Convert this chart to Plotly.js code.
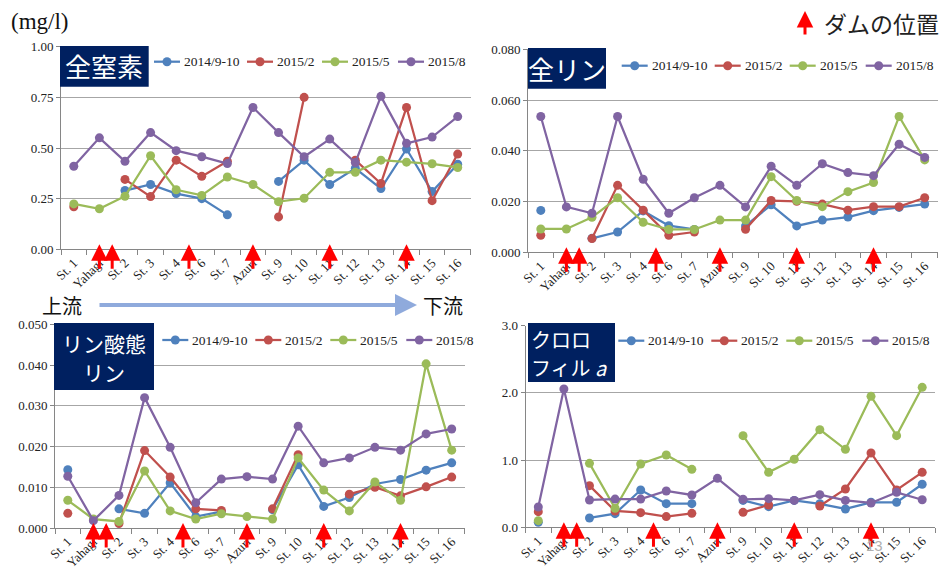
<!DOCTYPE html>
<html>
<head>
<meta charset="utf-8">
<script src="https://cdn.plot.ly/plotly-3.0.1.min.js"></script>
<style>html,body{margin:0;padding:0;background:#fff;}#chart{width:947px;height:574px;}</style>
</head>
<body>
<div id="chart"></div>
<script>
// ---------- DATA ----------
const categories = ["St. 1","Yahagi","St. 2","St. 3","St. 4","St. 6","St. 7","Azuri","St. 9","St. 10","St. 11","St. 12","St. 13","St. 14","St. 15","St. 16"];
const seriesNames = ["2014/9-10","2015/2","2015/5","2015/8"];
const damPositions = [1, 1.5, 4.5, 7, 10, 13];

// 全窒素 (mg/l)
const tn_2014_9_10 = [null,null,0.29,0.32,0.275,0.25,0.17,null,0.335,0.44,0.32,0.40,0.30,0.495,0.285,0.42];
const tn_2015_2    = [0.21,null,0.345,0.26,0.44,0.36,0.435,null,0.16,0.75,null,0.44,0.325,0.70,0.24,0.47];
const tn_2015_5    = [0.224,0.20,0.262,0.462,0.294,0.266,0.357,0.32,0.235,0.252,0.38,0.38,0.44,0.43,0.422,0.404];
const tn_2015_8    = [0.41,0.55,0.434,0.576,0.487,0.457,0.423,0.70,0.576,0.457,0.544,0.428,0.755,0.523,0.554,0.655];

// 全リン (mg/l)
const tp_2014_9_10 = [0.0165,null,0.0055,0.008,0.0163,0.0105,0.009,null,0.0104,0.0187,0.0104,0.0127,0.0139,0.0164,0.0177,0.019];
const tp_2015_2    = [0.0067,null,0.0054,0.0264,0.0166,0.0067,0.008,null,0.0091,0.0204,0.0201,0.019,0.0166,0.018,0.018,0.0215];
const tp_2015_5    = [0.0092,0.0092,0.0138,0.0215,0.0118,0.009,0.009,0.0127,0.0127,0.0298,0.0204,0.018,0.0239,0.0275,0.0535,0.0364];
const tp_2015_8    = [0.0535,0.0179,0.0154,0.0535,0.0288,0.0154,0.0215,0.0264,0.0179,0.0339,0.0264,0.0349,0.0314,0.0302,0.0426,0.0374];

// リン酸態リン (mg/l)
const po4_2014_9_10 = [0.0143,null,0.0047,0.0036,0.0111,0.0028,0.004,null,0.0045,0.0155,0.0053,0.0075,0.0108,0.0119,0.0142,0.016];
const po4_2015_2    = [0.0036,null,0.0011,0.019,0.0125,0.0047,0.0043,null,0.0047,0.018,null,0.0083,0.010,0.0079,0.0101,0.0125];
const po4_2015_5    = [0.0068,0.0022,0.0016,0.014,0.0042,0.0022,0.0035,0.0028,0.0022,0.0172,0.0093,0.0042,0.0113,0.0068,0.0403,0.0191];
const po4_2015_8    = [0.0127,0.0018,0.008,0.032,0.0198,0.0062,0.012,0.0126,0.012,0.025,0.016,0.0172,0.0198,0.0191,0.0231,0.0243];

// クロロフィル a
const chla_2014_9_10 = [0.074,null,0.139,0.203,0.555,0.352,0.352,null,0.40,0.307,0.40,0.35,0.273,0.372,0.372,0.64];
const chla_2015_2    = [0.233,null,0.62,0.243,0.218,0.159,0.208,null,0.223,0.332,null,0.317,0.57,1.106,0.555,0.818];
const chla_2015_5    = [0.099,null,0.952,0.283,0.942,1.076,0.863,null,1.364,0.818,1.012,1.453,1.16,1.949,1.364,2.083];
const chla_2015_8    = [0.302,2.058,0.407,0.42,0.42,0.54,0.481,0.729,0.417,0.426,0.40,0.486,0.40,0.362,0.52,0.41];

const panelTitles = [["全窒素"],["全リン"],["リン酸態","リン"],["クロロ","フィル <i>a</i>"]];

// ---------- LAYOUT ----------
const W = 947, H = 574;
const px = x => x / W;
const py = y => 1 - y / H;
const colors = ["#4F81BD","#C0504D","#9BBB59","#8064A2"];
const serif = "Liberation Serif";
const cjk = "Noto Sans CJK JP";

const panels = [
  {data:[tn_2014_9_10,tn_2015_2,tn_2015_5,tn_2015_8], xd:[61,470.5], yd:[46.7,249.3], ymax:1.0, dtick:0.25, fmt:".2f",
   box:[60,46,148.7,86.7], tAlign:"center", tSize:26, lines:[66], legX:154, legY:61.7},
  {data:[tp_2014_9_10,tp_2015_2,tp_2015_5,tp_2015_8], xd:[528,937.5], yd:[49.3,252.3], ymax:0.08, dtick:0.02, fmt:".3f",
   box:[528,48,606,88.7], tAlign:"center", tSize:26, lines:[68], legX:621.7, legY:65.7},
  {data:[po4_2014_9_10,po4_2015_2,po4_2015_5,po4_2015_8], xd:[55,464.5], yd:[324.3,528], ymax:0.05, dtick:0.01, fmt:".3f",
   box:[54,323,154,390], tAlign:"center", tSize:21, lines:[342.5,372], legX:162.3, legY:340},
  {data:[chla_2014_9_10,chla_2015_2,chla_2015_5,chla_2015_8], xd:[525.5,935], yd:[325.7,527.3], ymax:3.0, dtick:1.0, fmt:".1f",
   box:[528,323,615,382], tAlign:"left", tSize:20, lines:[339,367.5], legX:618.3, legY:340.7}
];
const legOffsets = [0, 93, 168, 244];

const traces = [];
const layout = {
  width: W, height: H,
  margin: {l:0, r:0, t:0, b:0},
  paper_bgcolor: "#fff", plot_bgcolor: "#fff",
  showlegend: false,
  font: {family: serif, color: "#222"},
  shapes: [], annotations: []
};

panels.forEach((p, i) => {
  const suf = i === 0 ? "" : String(i + 1);
  const xa = "x" + suf, ya = "y" + suf;
  layout["xaxis" + suf] = {
    domain: [px(p.xd[0]), px(p.xd[1])], anchor: ya,
    type: "category", categoryorder: "array", categoryarray: categories,
    range: [-0.5, categories.length - 0.5],
    showgrid: false, zeroline: false,
    showline: true, linecolor: "#868686", linewidth: 1,
    ticks: "outside", tickson: "boundaries", ticklen: 5, tickcolor: "#868686",
    tickangle: -45, tickfont: {family: serif, size: 13, color: "#222"}
  };
  layout["yaxis" + suf] = {
    domain: [py(p.yd[1]), py(p.yd[0])], anchor: xa,
    range: [0, p.ymax], dtick: p.dtick, tick0: 0, tickformat: p.fmt,
    showgrid: true, gridcolor: "#a6a6a6", gridwidth: 1, zeroline: false,
    showline: true, linecolor: "#868686", linewidth: 1,
    ticks: "outside", ticklen: 4, tickcolor: "#868686",
    tickfont: {family: serif, size: 13, color: "#222"}
  };
  p.data.forEach((ys, k) => {
    traces.push({
      type: "scatter", mode: "lines+markers", name: seriesNames[k],
      x: categories, y: ys, xaxis: xa, yaxis: ya,
      line: {color: colors[k], width: 2.25},
      marker: {color: colors[k], size: 9},
      connectgaps: false, cliponaxis: false, hoverinfo: "x+y+name"
    });
  });
  // title box
  layout.shapes.push({type: "rect", xref: "paper", yref: "paper",
    x0: px(p.box[0]), x1: px(p.box[2]), y0: py(p.box[3]), y1: py(p.box[1]),
    fillcolor: "#002060", line: {width: 0}, layer: "above"});
  panelTitles[i].forEach((t, j) => {
    layout.annotations.push({xref: "paper", yref: "paper",
      x: p.tAlign === "left" ? px(p.box[0] + 1) : px((p.box[0] + p.box[2]) / 2),
      y: py(p.lines[j]),
      xanchor: p.tAlign === "left" ? "left" : "center", yanchor: "middle",
      text: t, showarrow: false,
      font: {family: cjk, size: p.tSize, color: "#fff"}});
  });
  // legend
  seriesNames.forEach((nm, k) => {
    const lx = p.legX + legOffsets[k];
    layout.shapes.push({type: "line", xref: "paper", yref: "paper",
      x0: px(lx), x1: px(lx + 26), y0: py(p.legY), y1: py(p.legY),
      line: {color: colors[k], width: 2.25}});
    layout.shapes.push({type: "circle", xref: "paper", yref: "paper",
      xsizemode: "pixel", ysizemode: "pixel", xanchor: px(lx + 13), yanchor: py(p.legY),
      x0: -4.5, x1: 4.5, y0: -4.5, y1: 4.5,
      fillcolor: colors[k], line: {width: 0}});
    layout.annotations.push({xref: "paper", yref: "paper", x: px(lx + 28), y: py(p.legY),
      xanchor: "left", yanchor: "middle", text: nm, showarrow: false,
      font: {family: serif, size: 13.5, color: "#222"}});
  });
  // dam arrows
  damPositions.forEach(d => {
    layout.annotations.push({xref: xa, yref: "paper", x: d, y: py(p.yd[1] - 5),
      text: "", showarrow: true, axref: "pixel", ayref: "pixel", ax: 0, ay: 26,
      arrowcolor: "#FF0000", arrowwidth: 3, arrowhead: 2, arrowsize: 1.1, standoff: 0});
  });
});

// global texts
layout.annotations.push({xref:"paper", yref:"paper", x:px(9), y:py(21.7), xanchor:"left", yanchor:"middle",
  text:"(mg/l)", showarrow:false, font:{family:serif, size:23, color:"#111"}});
layout.annotations.push({xref:"paper", yref:"paper", x:px(822), y:py(23), xanchor:"left", yanchor:"middle",
  text:"ダムの位置", showarrow:false, font:{family:cjk, size:23, color:"#222"}});
layout.annotations.push({xref:"paper", yref:"paper", x:px(805), y:py(11), text:"", showarrow:true,
  axref:"pixel", ayref:"pixel", ax:0, ay:25, arrowcolor:"#FF0000", arrowwidth:3, arrowhead:2, arrowsize:1.1, standoff:0});
layout.annotations.push({xref:"paper", yref:"paper", x:px(61.7), y:py(305), xanchor:"center", yanchor:"middle",
  text:"上流", showarrow:false, font:{family:cjk, size:20, color:"#111"}});
layout.annotations.push({xref:"paper", yref:"paper", x:px(443), y:py(305), xanchor:"center", yanchor:"middle",
  text:"下流", showarrow:false, font:{family:cjk, size:20, color:"#111"}});
layout.annotations.push({xref:"paper", yref:"paper", x:px(417), y:py(305), text:"", showarrow:true,
  axref:"pixel", ayref:"pixel", ax:-319, ay:0, arrowcolor:"#8FAADC", arrowwidth:4, arrowhead:2, arrowsize:1.1, standoff:0});
layout.annotations.push({xref:"paper", yref:"paper", x:px(874), y:py(545), xanchor:"center", yanchor:"middle",
  text:"13", showarrow:false, font:{family:"Liberation Sans", size:15, color:"#b0b0b0"}});

Plotly.newPlot("chart", traces, layout, {displayModeBar:false, staticPlot:true});
</script>
</body>
</html>
